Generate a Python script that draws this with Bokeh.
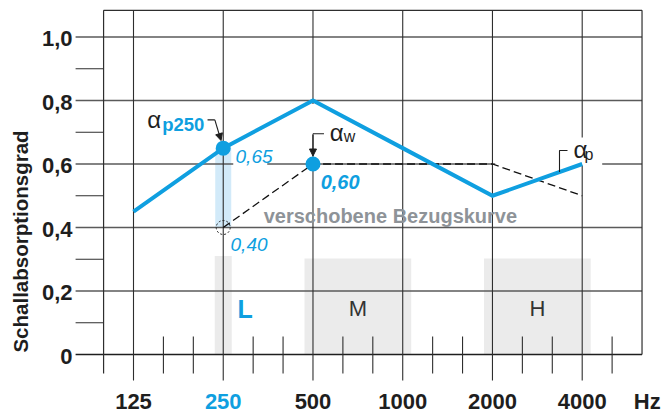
import math
from bokeh.plotting import figure
from bokeh.models import Range1d, Arrow, NormalHead
from bokeh.core.properties import value
from bokeh.embed import file_html
from bokeh.resources import INLINE

# ---------------- data ----------------
freqs = [125, 250, 500, 1000, 2000, 4000]
freq_labels = ["125", "250", "500", "1000", "2000", "4000"]
alpha_measured = [0.45, 0.65, 0.80, 0.65, 0.50, 0.60]
ref_freqs = [250, 500, 1000, 2000, 4000]
ref_shifted = [0.40, 0.60, 0.60, 0.60, 0.50]
alpha_p250 = 0.65
ref_250 = 0.40
alpha_w = 0.60
alpha_p4000 = 0.60
y_ticks = [0.0, 0.2, 0.4, 0.6, 0.8, 1.0]
y_tick_labels = ["0", "0,2", "0,4", "0,6", "0,8", "1,0"]
y_minor = [0.1, 0.3, 0.5, 0.7, 0.9]
band_names = ["L", "M", "H"]
band_from = [250, 500, 2000]
band_to = [250, 1000, 4000]
band_top = [0.31, 0.302, 0.302]

# ---------------- styles ----------------
BLUE = "#0f9fe0"
LIGHTBLUE = "#d2eaf9"
BAND = "#ebebeb"
GRID_H = "#5a5a5a"
GRID_V = "#2e2e2e"
DARK = "#1e1e1e"
GRAYTXT = "#8e9398"
SANS = "Liberation Sans"

W, H = 662, 414
OCT = 89.74     # px per octave
UNIT = 317.5    # px per absorption unit
BASELINE_FIX = 6.0  # px

def sx(f, dx):
    return f * 2 ** (dx / OCT)

def sy(v, dy):
    return v - dy / UNIT

# canvas: 125 Hz at x=133 px, alpha 0 at y=354 px
f_lo = sx(125, 0 - 133)
f_hi = sx(125, W - 133)
v_hi = sy(0, 0 - 354)
v_lo = sy(0, H - 354)

p = figure(width=W, height=H, x_axis_type="log",
           x_range=Range1d(f_lo, f_hi), y_range=Range1d(v_lo, v_hi),
           x_axis_location=None, y_axis_location=None,
           output_backend="svg", toolbar_location=None, min_border=0)
p.outline_line_color = None
p.grid.visible = False
p.background_fill_color = "white"
p.border_fill_color = "white"

x_frame_l = 125 * 2 ** (-1 / 3)
x_frame_r = 4000 * 2 ** (2 / 3)
x_grid_l = sx(x_frame_l, -28)
v_frame_top = sy(1.0, -26.7)
v_vgrid_bot = sy(0, 26)
v_tick_top = sy(0, -18)
v_tick_bot = sy(0, 19)

# gray frequency bands
p.quad(left=[sx(f, -8.5) for f in band_from], right=[sx(f, 8.5) for f in band_to],
       bottom=[0] * 3, top=band_top, fill_color=BAND, line_color=None)

# light-blue difference bar at 250 Hz
p.quad(left=[sx(250, -8)], right=[sx(250, 8)], bottom=[ref_250], top=[alpha_p250],
       fill_color=LIGHTBLUE, line_color=None)

# horizontal grid lines
p.segment(x0=[x_grid_l] * 5, y0=y_ticks[1:], x1=[x_frame_r] * 5, y1=y_ticks[1:],
          line_color=GRID_H, line_width=1.3)
p.segment(x0=[x_grid_l], y0=[0], x1=[x_frame_r], y1=[0], line_color=DARK, line_width=1.3)
# minor y ticks
p.segment(x0=[x_grid_l] * 5, y0=y_minor, x1=[x_frame_l] * 5, y1=y_minor,
          line_color=GRID_V, line_width=1.1)

# vertical grid lines at octaves
p.segment(x0=freqs, y0=[v_frame_top] * 6, x1=freqs, y1=[v_vgrid_bot] * 6,
          line_color=GRID_V, line_width=1.1)
# third-octave ticks
thirds = [125 * 2 ** (k / 3) for k in range(0, 17) if k % 3 != 0]
p.segment(x0=thirds, y0=[v_tick_top] * len(thirds), x1=thirds, y1=[v_tick_bot] * len(thirds),
          line_color=GRID_V, line_width=1.1)

# frame
p.segment(x0=[x_frame_l, x_frame_r, x_frame_l], y0=[v_frame_top, v_frame_top, v_frame_top],
          x1=[x_frame_r, x_frame_r, x_frame_l], y1=[v_frame_top, 0, v_tick_bot],
          line_color=GRID_V, line_width=1.2)

# white boxes behind labels
boxes_l = [sx(250, 10), sx(500, -8), sx(4000, -32), sx(4000, -87)]
boxes_r = [sx(250, 44), sx(500, 40), sx(4000, 20), sx(4000, -31)]
boxes_b = [sy(alpha_p250, 19), sy(alpha_w, -29), sy(alpha_p4000, 1.5), sy(alpha_p4000, 1.5)]
boxes_t = [sy(alpha_p250, -3), sy(alpha_w, -60), sy(alpha_p4000, -26.5), sy(alpha_p4000, -1.5)]
p.quad(left=boxes_l, right=boxes_r, bottom=boxes_b, top=boxes_t,
       fill_color="white", line_color=None)

# shifted reference curve
p.line(ref_freqs, ref_shifted, line_color="#111111", line_width=1.3, line_dash="8 4")

# measured curve
p.line(freqs, alpha_measured, line_color=BLUE, line_width=4, line_join="miter")

# markers
p.scatter([250], [ref_250], size=14, fill_color=None, line_color="#222222",
          line_width=1, line_dash="2 2")
p.scatter([250, 500], [alpha_p250, alpha_w], size=15, fill_color=BLUE, line_color=None)

# leaders
p.line([sx(250, -15.7), sx(250, -8.4)], [sy(alpha_p250, -28.3)] * 2,
       line_color=DARK, line_width=1.1)
p.add_layout(Arrow(end=NormalHead(size=7, fill_color=DARK, line_color=DARK),
                   x_start=sx(250, -8.4), y_start=sy(alpha_p250, -28.3),
                   x_end=sx(250, -2.2), y_end=sy(alpha_p250, -7.6),
                   line_color=DARK, line_width=1.1))
p.line([sx(500, 11), sx(500, 0)], [sy(alpha_w, -30.2)] * 2, line_color=DARK, line_width=1.1)
p.add_layout(Arrow(end=NormalHead(size=7, fill_color=DARK, line_color=DARK),
                   x_start=500, y_start=sy(alpha_w, -30.2),
                   x_end=500, y_end=sy(alpha_w, -8),
                   line_color=DARK, line_width=1.1))
p.line([sx(4000, -14.7), sx(4000, -22.7), sx(4000, -22.7)],
       [sy(alpha_p4000, -13.5), sy(alpha_p4000, -13.5), sy(alpha_p4000, 8)],
       line_color=DARK, line_width=1.1)

def txt(x, y, t, size, color=DARK, font=SANS, style="normal", align="left",
        baseline="alphabetic", angle=0):
    if baseline == "alphabetic":
        y = sy(y, -BASELINE_FIX)
    p.text(x=[x], y=[y], text=[t], text_font=value(font), text_font_size=f"{size}px",
           text_font_style=style, text_color=color, text_align=align,
           text_baseline=baseline, angle=angle)

# annotations
txt(sx(250, -76), sy(alpha_p250, -22.6), "α", 24)
txt(sx(250, -61), sy(alpha_p250, -17.6), "p250", 18.5, color=BLUE, style="bold")
txt(sx(250, 12.3), sy(alpha_p250, 14), "0,65", 19, color=BLUE, style="italic")
txt(sx(250, 7.3), sy(ref_250, 23), "0,40", 19, color=BLUE, style="italic")
txt(sx(500, 16.7), sy(alpha_w, -25.5), "α", 24)
txt(sx(500, 30.7), sy(alpha_w, -21.5), "w", 16)
txt(sx(500, 7.7), sy(alpha_w, 23.8), "0,60", 20, color=BLUE, style="bold italic")
txt(sx(500, -49.3), sy(alpha_w, 58.2), "verschobene Bezugskurve", 20, color=GRAYTXT, style="bold")
txt(sx(4000, -8.7), sy(alpha_p4000, -8.5), "α", 24)
txt(sx(4000, 2.3), sy(alpha_p4000, -3.5), "p", 16)

# band labels
txt(sx(250, 22), sy(0, -46), band_names[0], 25, color=BLUE, style="bold",
    align="center", baseline="middle")
for name, f0, f1 in zip(band_names[1:], band_from[1:], band_to[1:]):
    txt(math.sqrt(f0 * f1), sy(0, -46), name, 22, color="#333333",
        align="center", baseline="middle")

# y tick labels
p.text(x=[sx(x_frame_l, -31)] * 6, y=[sy(v, 1.5) for v in y_ticks], text=y_tick_labels,
       text_font=value(SANS), text_font_size="22px", text_font_style="bold",
       text_color=DARK, text_align="right", text_baseline="middle")
# x tick labels
x_label_colors = [BLUE if f == 250 else DARK for f in freqs]
p.text(x=freqs, y=[sy(0, 47)] * 6, text=freq_labels, text_color=x_label_colors,
       text_font=value(SANS), text_font_size="22px", text_font_style="bold",
       text_align="center", text_baseline="middle")
txt(sx(4000, 65), sy(0, 47), "Hz", 22, style="bold", align="center", baseline="middle")

# y-axis title
txt(sx(125, 19.5 - 133), sy(0, 241 - 354), "Schallabsorptionsgrad", 20.5, style="bold",
    align="center", baseline="middle", angle=math.pi / 2)

open("out.html", "w").write(file_html(p, INLINE))
